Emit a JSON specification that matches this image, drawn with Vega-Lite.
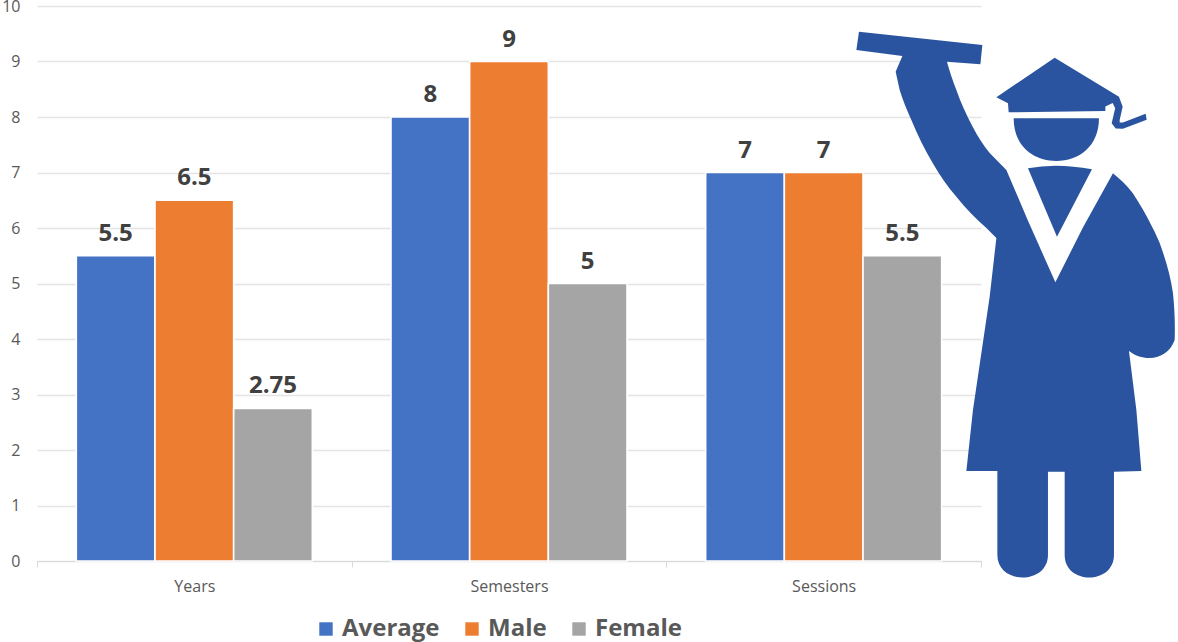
{
"$schema":"https://vega.github.io/schema/vega-lite/v6.json",
"width":944,"height":555,
"autosize":{"type":"none"},
"padding":{"left":37,"top":6,"right":197,"bottom":81},
"background":"#ffffff",
"config":{"view":{"stroke":null},"font":"Open Sans"},
"layer":[
{"data":{"values":[
{"period":"Years","series":"Average","value":5.5},
{"period":"Years","series":"Male","value":6.5},
{"period":"Years","series":"Female","value":2.75},
{"period":"Semesters","series":"Average","value":8},
{"period":"Semesters","series":"Male","value":9},
{"period":"Semesters","series":"Female","value":5},
{"period":"Sessions","series":"Average","value":7},
{"period":"Sessions","series":"Male","value":7},
{"period":"Sessions","series":"Female","value":5.5}
]},
"layer":[
{"mark":{"type":"bar","stroke":"#ffffff","strokeWidth":1.6,"xOffset":0.7},
"encoding":{
"x":{"field":"period","type":"nominal","sort":["Years","Semesters","Sessions"],"scale":{"paddingInner":0,"paddingOuter":0},
"axis":{"title":null,"labelAngle":0,"labelFontSize":16,"labelColor":"#595959","labelPadding":11,"domainColor":"#d9d9d9","tickColor":"#d9d9d9","tickBand":"extent","tickSize":6,"grid":false}},
"xOffset":{"field":"series","type":"nominal","sort":["Average","Male","Female"],"scale":{"paddingInner":0,"paddingOuter":0.5}},
"y":{"field":"value","type":"quantitative","scale":{"domain":[0,10],"nice":false},
"axis":{"title":null,"values":[0,1,2,3,4,5,6,7,8,9,10],"labelFontSize":16,"labelColor":"#595959","labelPadding":17,"tickSize":0,"domain":false,"gridColor":"#e4e4e4","gridWidth":1.3}},
"color":{"field":"series","type":"nominal","sort":["Average","Male","Female"],"scale":{"domain":["Average","Male","Female"],"range":["#4472c4","#ed7d31","#a5a5a5"]},
"legend":{"title":null,"orient":"none","legendX":277,"legendY":611,"direction":"horizontal","columns":3,"columnPadding":20,"symbolType":"square","symbolSize":180,"labelFontSize":24,"labelFontWeight":"bold","labelColor":"#595959","labelOffset":4,"symbolStrokeWidth":0}}
}},
{"mark":{"type":"text","baseline":"bottom","dy":-10,"fontSize":24,"fontWeight":"bold","color":"#404040"},
"encoding":{
"x":{"field":"period","type":"nominal","sort":["Years","Semesters","Sessions"]},
"xOffset":{"field":"series","type":"nominal","sort":["Average","Male","Female"]},
"y":{"field":"value","type":"quantitative"},
"text":{"field":"value","type":"quantitative","format":".4~f"}
}}
]},
{"data":{"values":[{"period":"Sessions","level":5}]},
"mark":{"type":"point","filled":true,"opacity":1,"size":4,"color":"#2a549f","clip":false,
"shape":"M35.3,-251.8 L158.7,-238.5 L156.7,-219.2 L123.3,-221.8 C126,-212 129,-203 132.7,-193.5 C137,-181 143,-168 149,-156.8 C154,-147 160,-138 166,-130.5 L182.7,-113.5 L204,-63.5 L231.7,-1.2 L259,-55.5 L289.3,-110.2 C297,-104 303,-98 309,-90.5 C316,-80 323,-68 329,-55.5 C332,-50 334,-45 336,-40.5 C342,-24 347,-7 349.3,9.8 C351,26 351.5,41 351,56.5 C347,68 337,74.5 326,74.5 C318,74.5 311,72 305.3,67.5 L312.7,126.5 L317.7,187.5 L290.3,188.2 L290.3,271.5 C290.3,301.5 241,301.5 241,271.5 L241,188.2 L224.3,188.2 L224.3,271.5 C224.3,301.5 173.7,301.5 173.7,271.5 L173.7,187.5 L142.7,187.5 L149.3,126.5 L166,13.2 L172.7,-45.5 L162.7,-55.5 C152,-65 142,-75 132.7,-86.8 C124,-97 116,-108 109,-120.5 C101,-134 94,-148 87.7,-163.5 C83,-174 79,-184 76,-193.5 L72,-211.8 L78.7,-227.5 L32.7,-233.5 Z M204.3,-115.2 Q233,-121 268.3,-114.2 L233.3,-46.8 Z M190,-165.2 L275.3,-165.2 C275.3,-137 255,-122.5 232.7,-122.5 C210,-122.5 190,-137 190,-165.2 Z M231,-225.8 L295.3,-186.8 L299,-176.8 L296,-163.5 L296,-161 L299.3,-161 L322,-169.8 L323,-163.8 L299.3,-154.8 L292,-155 L288,-160.2 L291.5,-175.2 L289,-180.5 L281.7,-177 L281.7,-172.5 L185,-171.2 L184.3,-180.2 L172.7,-186.2 Z"},
"encoding":{
"x":{"field":"period","type":"nominal","sort":["Years","Semesters","Sessions"]},
"y":{"field":"level","type":"quantitative"}
}}
]
}
